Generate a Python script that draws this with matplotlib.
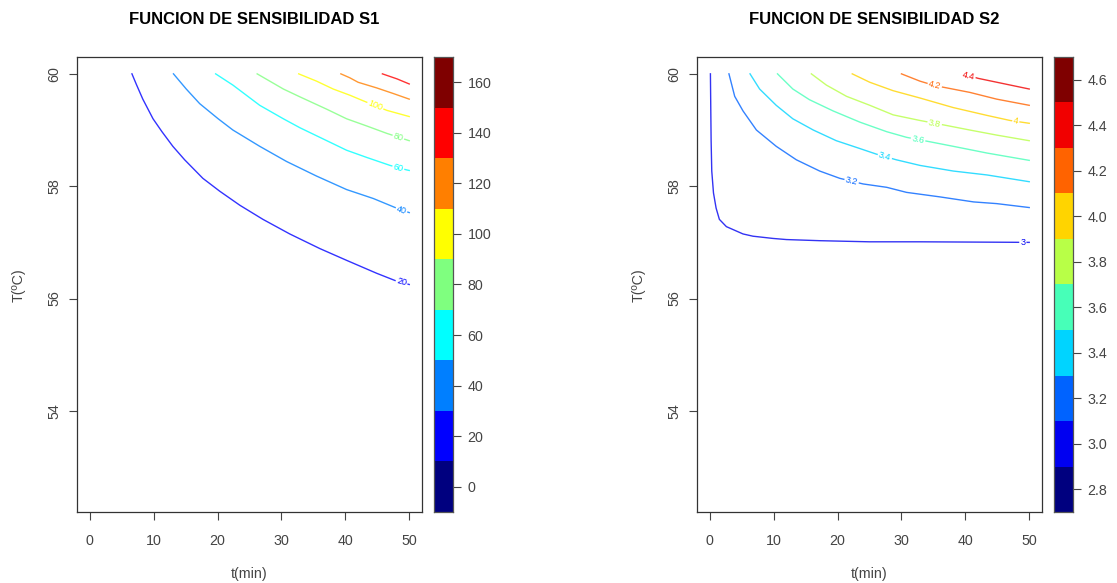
import math
import numpy as np
import matplotlib
matplotlib.use('Agg')
import matplotlib.pyplot as plt

plt.rcParams['font.family'] = ['Liberation Sans', 'DejaVu Sans']

# contour lines: (t, T) pairs
s1_c20 = [(6.6, 60.0), (7.3, 59.81), (8.3, 59.55), (9.9, 59.2), (11.3, 58.97), (13.0, 58.71),
          (14.85, 58.47), (17.7, 58.14), (20.35, 57.91), (23.5, 57.66), (27.1, 57.41),
          (31.3, 57.15), (36.0, 56.89), (40.2, 56.68), (44.9, 56.45), (47.8, 56.32), (50.0, 56.25)]
s1_c40 = [(13.1, 60.0), (15.1, 59.73), (17.2, 59.47), (20.1, 59.2), (22.4, 59.0), (26.6, 58.71),
          (30.8, 58.44), (35.5, 58.18), (40.2, 57.94), (44.4, 57.78), (47.8, 57.62), (50.0, 57.53)]
s1_c60 = [(19.7, 60.0), (22.4, 59.8), (26.6, 59.44), (30.3, 59.2), (32.9, 59.04), (37.1, 58.81),
          (40.2, 58.64), (43.4, 58.51), (47.0, 58.37), (49.6, 58.29), (50.0, 58.28)]
s1_c80 = [(26.2, 60.0), (30.3, 59.73), (32.9, 59.59), (37.1, 59.37), (40.2, 59.2), (43.4, 59.07),
          (46.5, 58.94), (50.0, 58.81)]
s1_c100 = [(32.7, 60.0), (35.5, 59.87), (38.1, 59.73), (40.7, 59.62), (42.8, 59.52), (46.5, 59.35),
           (50.0, 59.24)]
s1_c120 = [(39.3, 60.0), (40.7, 59.93), (42.0, 59.85), (44.9, 59.75), (47.5, 59.65), (50.0, 59.55)]
s1_c140 = [(45.8, 60.0), (48.1, 59.91), (50.0, 59.82)]

s2_c30 = [(0.1, 60.0), (0.16, 59.34), (0.21, 58.81), (0.31, 58.27), (0.58, 57.88), (0.99, 57.61),
          (1.5, 57.41), (2.6, 57.28), (3.6, 57.23), (5.2, 57.15), (6.75, 57.11), (9.9, 57.07),
          (12.0, 57.05), (17.2, 57.03), (25.0, 57.01), (32.9, 57.01), (50.0, 57.0)]
s2_c32 = [(3.0, 60.0), (3.9, 59.6), (5.2, 59.34), (7.3, 59.0), (10.4, 58.71), (13.55, 58.47),
          (17.2, 58.27), (20.35, 58.14), (24.0, 58.04), (27.7, 57.98), (30.8, 57.89),
          (36.0, 57.81), (41.3, 57.72), (44.9, 57.69), (50.0, 57.62)]
s2_c34 = [(6.3, 60.0), (7.8, 59.73), (10.4, 59.44), (13.0, 59.2), (16.2, 59.0), (19.8, 58.81),
          (23.5, 58.67), (26.1, 58.57), (29.2, 58.47), (32.9, 58.37), (38.1, 58.27),
          (43.4, 58.2), (50.0, 58.08)]
s2_c36 = [(10.6, 60.0), (13.0, 59.73), (15.6, 59.54), (19.3, 59.34), (23.5, 59.14), (27.7, 58.97),
          (30.8, 58.87), (34.5, 58.79), (38.1, 58.71), (43.4, 58.59), (50.0, 58.46)]
s2_c38 = [(15.9, 60.0), (18.25, 59.8), (21.4, 59.6), (25.05, 59.44), (28.7, 59.27), (32.9, 59.17),
          (37.1, 59.08), (40.7, 59.0), (44.9, 58.91), (50.0, 58.81)]
s2_c40 = [(22.3, 60.0), (25.05, 59.85), (28.7, 59.7), (32.9, 59.57), (38.1, 59.4), (43.4, 59.26),
          (47.0, 59.17), (50.0, 59.12)]
s2_c42 = [(30.0, 60.0), (32.9, 59.87), (35.25, 59.79), (37.1, 59.75), (40.7, 59.67), (44.9, 59.55),
          (50.0, 59.44)]
s2_c44 = [(39.6, 60.0), (42.0, 59.92), (50.0, 59.73)]

s1_lines = [s1_c20, s1_c40, s1_c60, s1_c80, s1_c100, s1_c120, s1_c140]
s1_labels = ['20', '40', '60', '80', '100', None, None]
s1_label_t = [48.8, 48.8, 48.3, 48.3, 44.7, None, None]

s2_lines = [s2_c30, s2_c32, s2_c34, s2_c36, s2_c38, s2_c40, s2_c42, s2_c44]
s2_labels = ['3', '3.2', '3.4', '3.6', '3.8', '4', '4.2', '4.4']
s2_label_t = [49.0, 22.2, 27.4, 32.6, 35.2, 47.9, 35.2, 40.5]

# colour keys
s1_ticks = [0, 20, 40, 60, 80, 100, 120, 140, 160]
s1_colors = ['#00007F', '#0000FF', '#007FFF', '#00FFFF', '#7FFF7F',
             '#FFFF00', '#FF7F00', '#FF0000', '#7F0000']
s2_ticks = [2.8, 3.0, 3.2, 3.4, 3.6, 3.8, 4.0, 4.2, 4.4, 4.6]
s2_colors = ['#00007F', '#0000F1', '#0063FF', '#00D4FF', '#47FFB8',
             '#B8FF47', '#FFD400', '#FF6300', '#F10000', '#7F0000']

W, H = 1117, 583
GREY = '#444444'
FS = 10.3

fig = plt.figure(figsize=(W / 100, H / 100), dpi=100)


def px_box(x0, x1, y0, y1):
    return [x0 / W, 1 - y1 / H, (x1 - x0) / W, (y1 - y0) / H]


def panel(x0, lines, labels, label_t, ticks, colors, title):
    ax = fig.add_axes(px_box(x0, x0 + 345, 57, 512))
    cax = fig.add_axes(px_box(x0 + 357, x0 + 376, 57, 512))
    ax.set_xlim(-2, 52)
    ax.set_ylim(52.2, 60.3)
    ax.set_xticks([0, 10, 20, 30, 40, 50])
    ax.set_yticks([54, 56, 58, 60])
    ax.tick_params(colors=GREY, labelsize=FS, length=5.5, width=0.8)
    ax.tick_params(axis='x', pad=10.5)
    ax.tick_params(axis='y', pad=6)
    for lab in ax.get_yticklabels():
        lab.set_rotation(90)
        lab.set_va('center')
    for sp in ax.spines.values():
        sp.set_color('#333333')
        sp.set_linewidth(0.9)
    fig.text((x0 + 172) / W, 1 - 574 / H, 't(min)', ha='center', va='center',
             fontsize=FS, color=GREY)
    fig.text((x0 - 58) / W, 1 - 285 / H, 'T(ºC)', ha='center', va='center',
             rotation=90, fontsize=FS, color=GREY)

    step = ticks[1] - ticks[0]
    for lv_idx, (pts, txt, lt) in enumerate(zip(lines, labels, label_t)):
        c = colors[lv_idx + 1]
        t = [p[0] for p in pts]
        T = [p[1] for p in pts]
        ax.plot(t, T, color=c, lw=1.0, alpha=0.8)
        if txt is None:
            continue
        y = np.interp(lt, t, T)
        a = ax.transData.transform((lt - 1.5, np.interp(lt - 1.5, t, T)))
        b = ax.transData.transform((lt + 1.5, np.interp(lt + 1.5, t, T)))
        ang = math.degrees(math.atan2(b[1] - a[1], b[0] - a[0]))
        ax.text(lt, y, txt, rotation=ang, rotation_mode='anchor', ha='center', va='center',
                fontsize=6.5, color=c,
                bbox=dict(facecolor='white', edgecolor='none', pad=0.8))

    lo = ticks[0] - step / 2
    for k, c in enumerate(colors):
        cax.axhspan(lo + k * step, lo + (k + 1) * step, color=c, lw=0)
    cax.set_ylim(lo, lo + len(colors) * step)
    cax.set_xticks([])
    cax.set_yticks(ticks)
    cax.set_yticklabels([('%g' % v) if step >= 1 else ('%.1f' % v) for v in ticks])
    cax.yaxis.tick_right()
    cax.tick_params(colors=GREY, labelsize=FS, length=5.5, width=0.8, pad=5)
    for sp in cax.spines.values():
        sp.set_color('#555555')
        sp.set_linewidth(0.9)

    fig.text((x0 + 177) / W, 1 - 19 / H, title, ha='center', va='center',
             fontsize=12, fontweight='bold', color='black')


panel(77, s1_lines, s1_labels, s1_label_t, s1_ticks, s1_colors, 'FUNCION DE SENSIBILIDAD S1')
panel(697, s2_lines, s2_labels, s2_label_t, s2_ticks, s2_colors, 'FUNCION DE SENSIBILIDAD S2')

fig.savefig('out.png', dpi=100)
